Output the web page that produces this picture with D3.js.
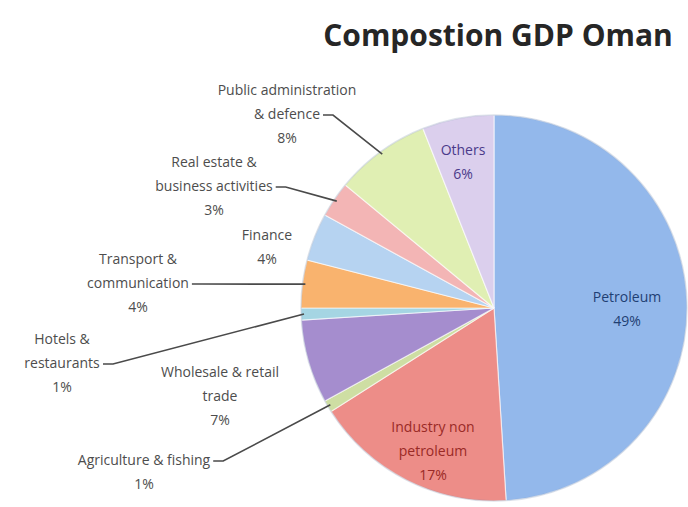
<!DOCTYPE html>
<html>
<head>
<meta charset="utf-8">
<script src="https://cdn.jsdelivr.net/npm/d3@7"></script>
<style>
  body { margin: 0; background: #fff; }
  text { font-family: "Open Sans", "Liberation Sans", sans-serif; }
</style>
</head>
<body>
<div id="chart"></div>
<script>
(function(d3) {
  'use strict';

  // GDP composition, clockwise from 12 o'clock
  var categories = [
    'Petroleum', 'Industry non petroleum', 'Agriculture & fishing',
    'Wholesale & retail trade', 'Hotels & restaurants', 'Transport & communication',
    'Finance', 'Real estate & business activities', 'Public administration & defence', 'Others'
  ];
  var shares = [49, 17, 1, 7, 1, 4, 4, 3, 8, 6];
  var pctLabels = ['49%', '17%', '1%', '7%', '1%', '4%', '4%', '3%', '8%', '6%'];
  var colors = ['#78a6e6', '#e9706a', '#c2d68c', '#8e70c2', '#8ecbdc', '#f7a04a',
                '#a4c8ee', '#f0a2a2', '#d8eba0', '#d2c3e8'];

  // label layout (lines, centre x, first baseline, leader?)
  var labelLayout = [
    { lines: ['Petroleum'], x: 627, y: 302, inside: true, fill: '#1f3f73' },
    { lines: ['Industry non', 'petroleum'], x: 433, y: 432, inside: true, fill: '#9a2a26' },
    { lines: ['Agriculture & fishing'], x: 144, y: 465, leader: true },
    { lines: ['Wholesale & retail', 'trade'], x: 220, y: 377 },
    { lines: ['Hotels &', 'restaurants'], x: 62, y: 344, leader: true, lx: 103 },
    { lines: ['Transport &', 'communication'], x: 138, y: 264, leader: true },
    { lines: ['Finance'], x: 267, y: 240 },
    { lines: ['Real estate &', 'business activities'], x: 214, y: 167, leader: true },
    { lines: ['Public administration', '& defence'], x: 287, y: 95, leader: true },
    { lines: ['Others'], x: 463, y: 155, inside: true, fill: '#4a3a8a' }
  ];

  var width = 688;
  var height = 507;
  var cx = 494, cy = 308, radius = 193;
  var lineH = 24;

  var svg = d3.select('#chart')
    .append('svg')
    .attr('width', width)
    .attr('height', height);

  var defs = svg.append('defs');

  var dataset = categories.map(function(c, i) {
    return { label: c, value: shares[i], pct: pctLabels[i], color: colors[i], layout: labelLayout[i] };
  });

  dataset.forEach(function(d, i) {
    var g = defs.append('linearGradient')
      .attr('id', 'grad' + i)
      .attr('gradientUnits', 'userSpaceOnUse')
      .attr('x1', cx - radius).attr('y1', cy - radius)
      .attr('x2', cx + radius * 0.3).attr('y2', cy + radius);
    g.append('stop').attr('offset', '0%').attr('stop-color', d3.interpolateRgb(d.color, '#ffffff')(0.2));
    g.append('stop').attr('offset', '100%').attr('stop-color', d3.color(d.color).darker(0.45));
  });

  var pie = d3.pie()
    .value(function(d) { return d.value; })
    .sort(null);

  var arc = d3.arc()
    .innerRadius(0)
    .outerRadius(radius);

  var arcs = pie(dataset);

  var chart = svg.append('g')
    .attr('transform', 'translate(' + cx + ',' + cy + ')');

  chart.selectAll('path')
    .data(arcs)
    .enter()
    .append('path')
    .attr('d', arc)
    .attr('fill', function(d, i) { return 'url(#grad' + i + ')'; })
    .attr('stroke', '#ffffff')
    .attr('stroke-opacity', 0.6)
    .attr('stroke-width', 1.2);

  // soft outline
  chart.append('circle')
    .attr('r', radius)
    .attr('fill', 'none')
    .attr('stroke', '#7b8fb0')
    .attr('stroke-opacity', 0.25)
    .attr('stroke-width', 1.5);

  function measure(s) {
    var t = svg.append('text').style('font-size', '14px').text(s);
    var w = t.node().getComputedTextLength();
    t.remove();
    return w;
  }

  // leader lines
  arcs.forEach(function(a) {
    var L = a.data.layout;
    if (!L.leader) return;
    var mid = (a.startAngle + a.endAngle) / 2;
    var px = cx + Math.sin(mid) * radius * 0.985;
    var py = cy - Math.cos(mid) * radius * 0.985;
    var lastIdx = L.lines.length - 1;
    var w = measure(L.lines[lastIdx]);
    var sx = (L.lx !== undefined ? L.lx : L.x + w / 2 + 3);
    var sy = L.y + lastIdx * lineH - 4;
    svg.append('path')
      .attr('d', 'M' + sx + ',' + sy + 'L' + (sx + 10) + ',' + sy + 'L' + px + ',' + py)
      .attr('fill', 'none')
      .attr('stroke', '#4a4a4a')
      .attr('stroke-width', 1.6);
  });

  // labels
  arcs.forEach(function(a) {
    var L = a.data.layout;
    var lines = L.lines.concat([a.data.pct]);
    var t = svg.append('text')
      .attr('text-anchor', 'middle')
      .style('font-size', '14px')
      .attr('fill', L.inside ? L.fill : '#4d4d4d');
    lines.forEach(function(s, j) {
      t.append('tspan')
        .attr('x', L.x)
        .attr('y', L.y + j * lineH)
        .text(s);
    });
  });

  svg.append('text')
    .attr('x', 498)
    .attr('y', 46)
    .attr('text-anchor', 'middle')
    .style('font-size', '30px')
    .style('font-weight', 'bold')
    .attr('fill', '#262626')
    .text('Compostion GDP Oman');
})(window.d3);
</script>
</body>
</html>
